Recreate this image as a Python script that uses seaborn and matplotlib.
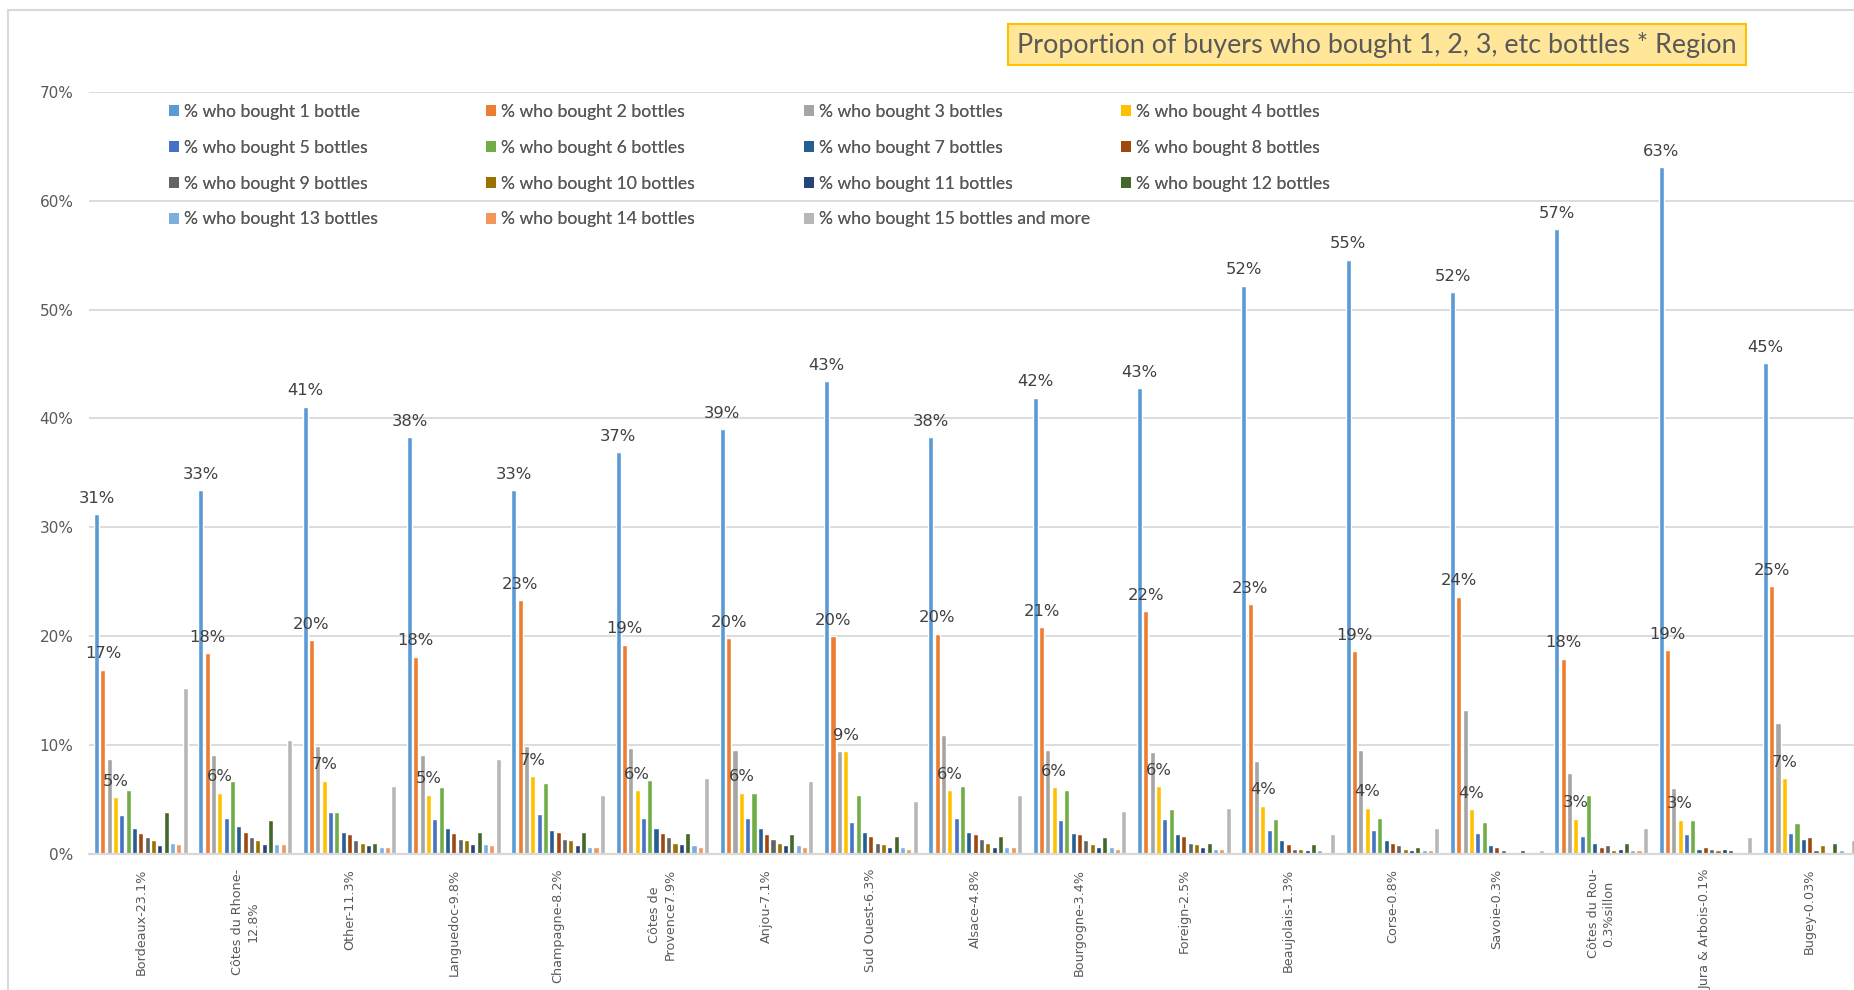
import matplotlib
matplotlib.use("Agg")
import matplotlib.pyplot as plt
from matplotlib.patches import Patch, Rectangle
from matplotlib.ticker import FuncFormatter
import numpy as np
import pandas as pd
import seaborn as sns

# Regions (x-axis categories, with their share of buyers)
regions = [
    "Bordeaux-23.1%", "Côtes du Rhone-\n12.8%", "Other-11.3%", "Languedoc-9.8%",
    "Champagne-8.2%", "Côtes de\nProvence7.9%", "Anjou-7.1%", "Sud Ouest-6.3%",
    "Alsace-4.8%", "Bourgogne-3.4%", "Foreign-2.5%", "Beaujolais-1.3%",
    "Corse-0.8%", "Savoie-0.3%", "Côtes du Rou-\n0.3%sillon", "Jura & Arbois-0.1%",
    "Bugey-0.03%",
]

series = [
    "% who bought 1 bottle", "% who bought 2 bottles", "% who bought 3 bottles",
    "% who bought 4 bottles", "% who bought 5 bottles", "% who bought 6 bottles",
    "% who bought 7 bottles", "% who bought 8 bottles", "% who bought 9 bottles",
    "% who bought 10 bottles", "% who bought 11 bottles", "% who bought 12 bottles",
    "% who bought 13 bottles", "% who bought 14 bottles",
    "% who bought 15 bottles and more",
]

colors = [
    "#5B9BD5", "#ED7D31", "#A5A5A5", "#FFC000", "#4472C4", "#70AD47", "#255E91",
    "#9E480E", "#636363", "#997300", "#264478", "#43682B", "#7CAFDD", "#F1975A",
    "#B7B7B7",
]

# Percent of buyers per region, one list per number of bottles bought
bought_1 = [31.2, 33.4, 41.1, 38.3, 33.4, 36.9, 39.0, 43.4, 38.3, 41.9, 42.8, 52.2, 54.6, 51.6, 57.4, 63.1, 45.1]
bought_2 = [16.9, 18.4, 19.6, 18.1, 23.3, 19.2, 19.8, 20.0, 20.2, 20.8, 22.3, 22.9, 18.6, 23.6, 17.9, 18.7, 24.6]
bought_3 = [8.7, 9.1, 9.9, 9.1, 9.9, 9.7, 9.5, 9.4, 10.9, 9.5, 9.3, 8.5, 9.5, 13.2, 7.4, 6.0, 12.0]
bought_4 = [5.2, 5.6, 6.7, 5.4, 7.1, 5.8, 5.6, 9.4, 5.8, 6.1, 6.2, 4.4, 4.2, 4.1, 3.2, 3.1, 6.9]
bought_5 = [3.5, 3.3, 3.8, 3.2, 3.6, 3.3, 3.3, 2.9, 3.3, 3.1, 3.2, 2.2, 2.2, 1.9, 1.6, 1.75, 1.9]
bought_6 = [5.8, 6.7, 3.8, 6.1, 6.5, 6.8, 5.6, 5.4, 6.2, 5.8, 4.1, 3.2, 3.3, 2.9, 5.4, 3.1, 2.8]
bought_7 = [2.3, 2.5, 2.0, 2.3, 2.2, 2.3, 2.3, 2.0, 2.0, 1.9, 1.75, 1.2, 1.2, 0.74, 1.0, 0.45, 1.3]
bought_8 = [1.9, 2.0, 1.75, 1.9, 2.0, 1.9, 1.75, 1.6, 1.75, 1.75, 1.6, 0.86, 1.0, 0.6, 0.6, 0.6, 1.5]
bought_9 = [1.5, 1.5, 1.2, 1.3, 1.3, 1.5, 1.3, 1.0, 1.3, 1.2, 1.0, 0.45, 0.74, 0.3, 0.74, 0.45, 0.3]
bought_10 = [1.2, 1.2, 1.0, 1.2, 1.2, 1.0, 1.0, 0.86, 1.0, 0.86, 0.86, 0.45, 0.45, 0.15, 0.3, 0.3, 0.74]
bought_11 = [0.74, 0.86, 0.74, 0.86, 0.74, 0.86, 0.74, 0.6, 0.6, 0.6, 0.6, 0.3, 0.3, 0.15, 0.45, 0.45, 0.0]
bought_12 = [3.8, 3.1, 1.0, 2.0, 2.0, 1.9, 1.75, 1.6, 1.6, 1.5, 1.0, 0.86, 0.6, 0.3, 1.0, 0.3, 1.0]
bought_13 = [1.0, 0.86, 0.6, 0.86, 0.6, 0.74, 0.74, 0.6, 0.6, 0.6, 0.45, 0.3, 0.3, 0.15, 0.3, 0.15, 0.3]
bought_14 = [0.86, 0.86, 0.6, 0.74, 0.6, 0.6, 0.6, 0.45, 0.6, 0.45, 0.45, 0.15, 0.3, 0.15, 0.3, 0.15, 0.0]
bought_15plus = [15.2, 10.4, 6.2, 8.7, 5.4, 6.9, 6.7, 4.8, 5.4, 3.9, 4.2, 1.75, 2.3, 0.3, 2.3, 1.5, 1.2]

values = [bought_1, bought_2, bought_3, bought_4, bought_5, bought_6, bought_7,
          bought_8, bought_9, bought_10, bought_11, bought_12, bought_13,
          bought_14, bought_15plus]

title = "Proportion of buyers who bought 1, 2, 3, etc bottles * Region"

df = pd.DataFrame(
    [(r, s, v) for s, vals in zip(series, values) for r, v in zip(regions, vals)],
    columns=["region", "series", "value"],
)

sns.set_theme(style="white")
plt.rcParams["font.family"] = ["DejaVu Sans"]

W, H = 1854, 990
fig = plt.figure(figsize=(W / 100, H / 100), dpi=100)

# Plot area (pixel geometry converted to figure fractions)
left_px, right_px = 88.7, 88.7 + 17 * 104.3
top_px, base_px = 92.2, 853.5
ax = fig.add_axes([left_px / W, (H - base_px) / H,
                   (right_px - left_px) / W, (base_px - top_px) / H])

sns.barplot(data=df, x="region", y="value", hue="series", order=regions,
            hue_order=series, palette=colors, width=0.91, gap=0.2,
            saturation=1, legend=False, ax=ax, errorbar=None)

ax.set_xlim(-0.5, len(regions) - 0.5)
ax.set_ylim(0, 70)
ax.set_yticks(np.arange(0, 71, 10))
ax.yaxis.set_major_formatter(FuncFormatter(lambda v, _: f"{v:.0f}%"))
ax.grid(axis="y", color="#d9d9d9", linewidth=1.3)
ax.set_axisbelow(True)
ax.set_xlabel("")
ax.set_ylabel("")
for side in ["left", "right", "top"]:
    ax.spines[side].set_visible(False)
ax.spines["bottom"].set_color("#d9d9d9")
ax.spines["bottom"].set_linewidth(1.6)
ax.tick_params(axis="y", length=0, pad=11, labelsize=11, labelcolor="#595959")
ax.tick_params(axis="x", length=0, pad=11, labelsize=9.2, labelcolor="#595959")
for lbl in ax.get_xticklabels():
    lbl.set_rotation(90)
    lbl.set_ha("center")
    lbl.set_va("top")
    lbl.set_multialignment("center")

# Value labels on the 1-, 2- and 4-bottle series
for idx in (0, 1, 3):
    cont = ax.containers[idx]
    ax.bar_label(cont, labels=[f"{p.get_height():.0f}%" for p in cont],
                 padding=6, fontsize=11.8, color="#404040")

# Legend: four columns laid out row by row
leg_x = [172.6, 489.5, 807.6, 1124.5]
handles = [Patch(facecolor=c, edgecolor="none", label=s) for c, s in zip(colors, series)]
for col in range(4):
    hs = handles[col::4]
    lg = fig.legend(handles=hs, labels=[h.get_label() for h in hs],
                    loc="upper left", bbox_to_anchor=((leg_x[col] - 4) / W, 1 - 104 / H),
                    frameon=False, handlelength=0.6, handleheight=0.6,
                    handletextpad=0.3, labelspacing=1.13, borderpad=0,
                    borderaxespad=0, labelcolor="#595959",
                    prop={"family": "Lato", "size": 12.6})
    fig.add_artist(lg)

# Title box
bx0, bx1, by0, by1 = 1008, 1746, 24, 65
fig.patches.append(Rectangle((bx0 / W, 1 - by1 / H), (bx1 - bx0) / W, (by1 - by0) / H,
                             transform=fig.transFigure, facecolor="#FFE699",
                             edgecolor="#FFC000", linewidth=1.5, zorder=2))
fig.text((bx0 + bx1) / 2 / W, 1 - (by0 + by1) / 2 / H, title, ha="center", va="center",
         fontsize=19.4, color="#595959", family="Lato", zorder=3)

# Chart frame
fig.patches.append(Rectangle((8 / W, -0.2), 1.2, 1.2 - 9.5 / H,
                             transform=fig.transFigure, facecolor="none",
                             edgecolor="#d9d9d9", linewidth=1.5, zorder=1))

fig.savefig("out.png", dpi=100)
